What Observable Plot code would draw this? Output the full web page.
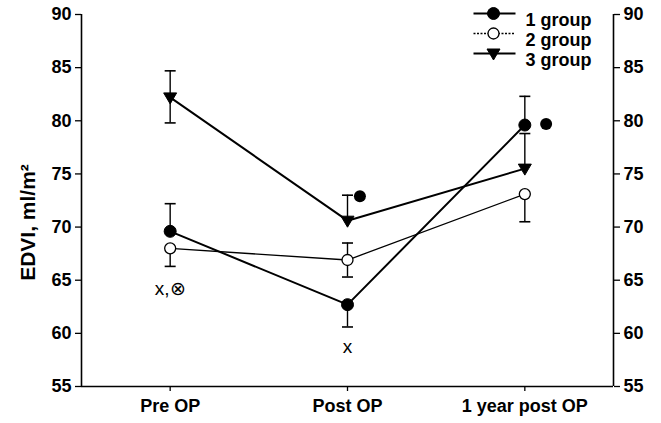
<!DOCTYPE html>
<html>
<head>
<meta charset="utf-8">
<script src="https://cdn.jsdelivr.net/npm/d3@7"></script>
<script src="https://cdn.jsdelivr.net/npm/@observablehq/plot@0.6"></script>
<style>
  html, body { margin: 0; padding: 0; background: white; }
</style>
</head>
<body>
<div id="chart"></div>
<script>
const categories = ["Pre OP", "Post OP", "1 year post OP"];
const groups = ["1 group", "2 group", "3 group"];
const yTicks = [55, 60, 65, 70, 75, 80, 85, 90];
const yLabel = "EDVI, ml/m²";

const g1Mean = [69.6, 62.7, 79.6];
const g1Lo = [null, 60.6, null];
const g1Hi = [72.2, null, 82.3];

const g2Mean = [68.0, 66.9, 73.1];
const g2Lo = [66.3, 65.3, 70.5];
const g2Hi = [null, 68.5, null];

const g3Mean = [82.2, 70.6, 75.5];
const g3Lo = [79.8, null, null];
const g3Hi = [84.7, 73.0, 78.8];

const sigX = [2.07, 3.12];
const sigY = [72.9, 79.7];

const annX = [1, 2];
const annY = [64.2, 58.7];
const annText = ["x,\u2297", "x"];

const means = [g1Mean, g2Mean, g3Mean];
const los = [g1Lo, g2Lo, g3Lo];
const his = [g1Hi, g2Hi, g3Hi];

const points = [];
const errs = [];
groups.forEach((g, gi) => {
  categories.forEach((c, ci) => {
    points.push({group: g, gi, x: ci + 1, y: means[gi][ci]});
    if (los[gi][ci] != null) errs.push({group: g, gi, x: ci + 1, y1: means[gi][ci], y2: los[gi][ci]});
    if (his[gi][ci] != null) errs.push({group: g, gi, x: ci + 1, y1: means[gi][ci], y2: his[gi][ci]});
  });
});

const capSymbol = {draw(ctx) { ctx.moveTo(-5.5, 0); ctx.lineTo(5.5, 0); }};
const legendLine = {draw(ctx) { ctx.moveTo(-21, 0); ctx.lineTo(21, 0); }};
const triDown = {draw(ctx) { ctx.moveTo(-6.5, -4.5); ctx.lineTo(6.5, -4.5); ctx.lineTo(0, 6.5); ctx.closePath(); }};

const lineW = [2, 1.3, 2];

function markFor(gi, data, extra = {}) {
  if (gi === 0) return Plot.dot(data, {...extra, r: 6, fill: "black", stroke: "black", strokeWidth: 1});
  if (gi === 1) return Plot.dot(data, {...extra, r: 5.5, fill: "white", stroke: "black", strokeWidth: 1.3});
  return Plot.dot(data, {...extra, symbol: triDown, fill: "black", stroke: "black", strokeWidth: 1});
}

const marks = [];
// axis lines
marks.push(Plot.ruleX([0.5, 3.5], {stroke: "black", strokeWidth: 1.6}));
marks.push(Plot.ruleY([55], {stroke: "black", strokeWidth: 1.6}));
marks.push(Plot.axisY({anchor: "left", ticks: yTicks, tickSize: 6, tickPadding: 4, fontWeight: "bold", fontSize: 18, label: null, strokeWidth: 1.3}));
marks.push(Plot.axisY({anchor: "right", ticks: yTicks, tickSize: 6, tickPadding: 4, fontWeight: "bold", fontSize: 18, label: null, strokeWidth: 1.3}));
marks.push(Plot.axisX({ticks: [1, 2, 3], tickFormat: (d) => categories[d - 1], tickSize: 5, tickPadding: 8, fontWeight: "bold", fontSize: 18, label: null, strokeWidth: 1.3}));
marks.push(Plot.text([yLabel], {frameAnchor: "left", textAnchor: "middle", rotate: -90, dx: -53, dy: 22, fontWeight: "bold", fontSize: 21}));

// series lines
groups.forEach((g, gi) => {
  marks.push(Plot.line(points.filter(d => d.gi === gi), {x: "x", y: "y", stroke: "black", strokeWidth: lineW[gi]}));
});
// error bars
marks.push(Plot.ruleX(errs, {x: "x", y1: "y1", y2: "y2", stroke: "black", strokeWidth: 1.4}));
marks.push(Plot.dot(errs, {x: "x", y: "y2", symbol: capSymbol, stroke: "black", strokeWidth: 1.6, fill: "none"}));
// markers
groups.forEach((g, gi) => {
  marks.push(markFor(gi, points.filter(d => d.gi === gi), {x: "x", y: "y"}));
});
// significance dots
marks.push(Plot.dot(sigX.map((x, i) => ({x, y: sigY[i]})), {x: "x", y: "y", r: 6, fill: "black"}));
// annotations
marks.push(Plot.text(annX.map((x, i) => ({x, y: annY[i], t: annText[i]})), {x: "x", y: "y", text: "t", fontSize: 19, fontWeight: "normal"}));

// legend
groups.forEach((g, gi) => {
  const dy = -1 + 20 * gi;
  marks.push(Plot.dot([g], {frameAnchor: "top-right", dx: -119, dy, symbol: legendLine, stroke: "black", strokeWidth: gi === 1 ? 1.3 : 2, strokeDasharray: gi === 1 ? "2,1.5" : null}));
  marks.push(markFor(gi, [g], {frameAnchor: "top-right", dx: -120, dy}));
  marks.push(Plot.text([g], {frameAnchor: "top-right", dx: -88, dy, textAnchor: "start", fontWeight: "bold", fontSize: 18}));
});

const chart = Plot.plot({
  width: 661,
  height: 423,
  marginLeft: 81,
  marginRight: 48,
  marginTop: 14,
  marginBottom: 37,
  x: {type: "linear", domain: [0.5, 3.5]},
  y: {domain: [55, 90]},
  style: {fontFamily: "'Liberation Sans', Arial, sans-serif", fontSize: "18px", color: "black", background: "white", overflow: "visible"},
  marks
});
document.getElementById("chart").appendChild(chart);
</script>
</body>
</html>
